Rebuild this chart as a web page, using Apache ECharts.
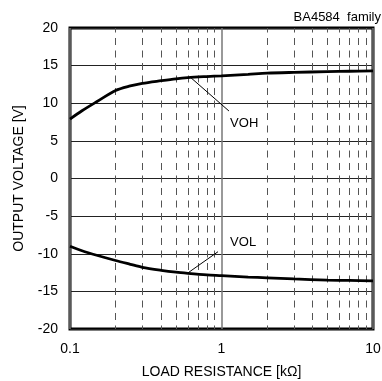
<!DOCTYPE html>
<html><head><meta charset="utf-8">
<script src="https://cdn.jsdelivr.net/npm/echarts@6/dist/echarts.min.js"></script>
<style>html,body{margin:0;padding:0;background:#fff}#c{width:382px;height:381px}</style>
</head><body><div id="c"></div>
<script>
var loadRes = [0.1, 0.12, 0.15, 0.2, 0.25, 0.3, 0.4, 0.5, 0.6, 0.8, 1, 1.5, 2, 3, 5, 7, 10];
var voh = [7.9, 9.0, 10.2, 11.7, 12.3, 12.65, 13.0, 13.25, 13.4, 13.55, 13.65, 13.85, 14.0, 14.1, 14.2, 14.25, 14.3];
var vol = [-9.0, -9.6, -10.2, -10.9, -11.4, -11.8, -12.2, -12.45, -12.6, -12.8, -12.9, -13.1, -13.2, -13.35, -13.5, -13.55, -13.6];
var minorX = [0.2,0.3,0.4,0.5,0.6,0.7,0.8,0.9,2,3,4,5,6,7,8,9];
var yTicks = {min: -20, max: 20, interval: 5};
var titleText = 'BA4584  family';
var xName = 'LOAD RESISTANCE [kΩ]';
var yName = 'OUTPUT VOLTAGE [V]';
var vohLeader = [[0.62, 13.49], [1.12, 8.97]];
var vohLabel = [1.14, 7.37];
var volLeader = [[0.6, -12.55], [0.948, -9.73]];
var volLabel = [1.14, -8.5];

var font = 'Liberation Sans, Arial, sans-serif';
function pairs(xs, ys){ return xs.map(function(x,i){ return [x, ys[i]]; }); }

var chart = echarts.init(document.getElementById('c'));
chart.setOption({
  animation: false,
  title: {text: titleText, right: 1, top: 11, padding: 0, textStyle: {fontFamily: font, fontSize: 13, fontWeight: 'normal', color: '#000'}},
  grid: {left: 70, top: 28, right: 9, bottom: 52, show: true, borderColor: '#000', borderWidth: 3, backgroundColor: 'transparent',
    containLabel: false, outerBoundsMode: 'none'},
  xAxis: {type: 'log', logBase: 10, min: 0.1, max: 10,
    name: xName, nameLocation: 'middle', nameGap: 36,
    nameTextStyle: {fontFamily: font, fontSize: 14, color: '#000'},
    axisLine: {show: false}, axisTick: {show: false},
    axisLabel: {fontFamily: font, fontSize: 14, color: '#000', margin: 13,
      formatter: function(v){ return String(+v.toPrecision(3)); }},
    splitLine: {show: true, lineStyle: {color: '#777', width: 1.5}}
  },
  yAxis: {type: 'value', min: yTicks.min, max: yTicks.max, interval: yTicks.interval,
    name: yName, nameLocation: 'middle', nameGap: 44,
    nameTextStyle: {fontFamily: font, fontSize: 14, color: '#000'},
    axisLine: {show: false}, axisTick: {show: false},
    axisLabel: {fontFamily: font, fontSize: 14, color: '#000', margin: 12},
    splitLine: {show: true, lineStyle: {color: '#222', width: 1}}
  },
  series: [
    {type: 'line', name: 'VOH', data: pairs(loadRes, voh), smooth: 0.3, showSymbol: false,
      lineStyle: {color: '#000', width: 2.8}, z: 5,
      markLine: {silent: true, symbol: ['none','none'], label: {show: false},
        lineStyle: {color: '#555', width: 1, type: [7, 5.5], dashOffset: 3.5},
        data: minorX.map(function(x){ return {xAxis: x}; })
      }
    },
    {type: 'line', name: 'VOL', data: pairs(loadRes, vol), smooth: 0.3, showSymbol: false,
      lineStyle: {color: '#000', width: 2.8}, z: 5,
      markLine: {silent: true, symbol: ['none','none'], label: {show: false},
        lineStyle: {color: '#000', width: 1, type: 'solid'},
        data: [
          [{coord: vohLeader[0]}, {coord: vohLeader[1]}],
          [{coord: volLeader[0]}, {coord: volLeader[1]}]
        ]
      },
      markPoint: {silent: true, symbol: 'circle', symbolSize: 0,
        label: {show: true, position: 'right', distance: 0, fontFamily: font, fontSize: 13, color: '#000'},
        data: [
          {coord: vohLabel, label: {formatter: 'VOH'}},
          {coord: volLabel, label: {formatter: 'VOL'}}
        ]
      }
    }
  ]
});
</script></body></html>
